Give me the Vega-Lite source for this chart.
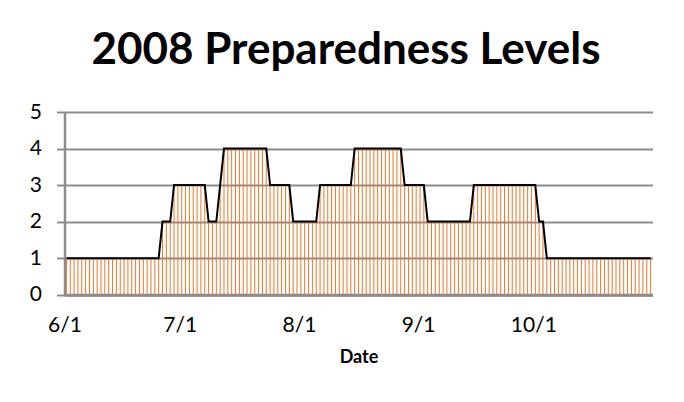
{
  "$schema": "https://vega.github.io/schema/vega-lite/v6.json",
  "width": 588,
  "height": 182.7,
  "autosize": {"type": "none"},
  "padding": {"left": 64.5, "top": 112, "right": 31.5, "bottom": 107.3},
  "background": "white",
  "title": {
    "text": "2008 Preparedness Levels",
    "font": "Lato",
    "fontSize": 44,
    "fontWeight": "bold",
    "color": "black",
    "anchor": "middle",
    "dx": -12.5,
    "offset": 28
  },
  "config": {
    "view": {"stroke": null},
    "axis": {"labelFont": "Lato", "titleFont": "Lato", "labelColor": "black", "titleColor": "black"},
    "axisX": {"labelOverlap": false, "ticks": false, "grid": false, "domainColor": "#8c8c8c", "domainWidth": 3},
    "axisY": {"labelOverlap": false, "tickSize": 8, "tickWidth": 2, "tickColor": "#8c8c8c", "gridColor": "#8c8c8c", "gridWidth": 2, "gridOpacity": 1, "domainColor": "#8c8c8c", "domainWidth": 2.5}
  },
  "data": {
    "values": [
      {"date": "2008-06-01", "level": 1}, {"date": "2008-06-02", "level": 1}, {"date": "2008-06-03", "level": 1}, {"date": "2008-06-04", "level": 1}, {"date": "2008-06-05", "level": 1},
      {"date": "2008-06-06", "level": 1}, {"date": "2008-06-07", "level": 1}, {"date": "2008-06-08", "level": 1}, {"date": "2008-06-09", "level": 1}, {"date": "2008-06-10", "level": 1},
      {"date": "2008-06-11", "level": 1}, {"date": "2008-06-12", "level": 1}, {"date": "2008-06-13", "level": 1}, {"date": "2008-06-14", "level": 1}, {"date": "2008-06-15", "level": 1},
      {"date": "2008-06-16", "level": 1}, {"date": "2008-06-17", "level": 1}, {"date": "2008-06-18", "level": 1}, {"date": "2008-06-19", "level": 1}, {"date": "2008-06-20", "level": 1},
      {"date": "2008-06-21", "level": 1}, {"date": "2008-06-22", "level": 1}, {"date": "2008-06-23", "level": 1}, {"date": "2008-06-24", "level": 1}, {"date": "2008-06-25", "level": 1},
      {"date": "2008-06-26", "level": 2}, {"date": "2008-06-27", "level": 2}, {"date": "2008-06-28", "level": 2}, {"date": "2008-06-29", "level": 3}, {"date": "2008-06-30", "level": 3},
      {"date": "2008-07-01", "level": 3}, {"date": "2008-07-02", "level": 3}, {"date": "2008-07-03", "level": 3}, {"date": "2008-07-04", "level": 3}, {"date": "2008-07-05", "level": 3},
      {"date": "2008-07-06", "level": 3}, {"date": "2008-07-07", "level": 3}, {"date": "2008-07-08", "level": 2}, {"date": "2008-07-09", "level": 2}, {"date": "2008-07-10", "level": 2},
      {"date": "2008-07-11", "level": 3}, {"date": "2008-07-12", "level": 4}, {"date": "2008-07-13", "level": 4}, {"date": "2008-07-14", "level": 4}, {"date": "2008-07-15", "level": 4},
      {"date": "2008-07-16", "level": 4}, {"date": "2008-07-17", "level": 4}, {"date": "2008-07-18", "level": 4}, {"date": "2008-07-19", "level": 4}, {"date": "2008-07-20", "level": 4},
      {"date": "2008-07-21", "level": 4}, {"date": "2008-07-22", "level": 4}, {"date": "2008-07-23", "level": 4}, {"date": "2008-07-24", "level": 3}, {"date": "2008-07-25", "level": 3},
      {"date": "2008-07-26", "level": 3}, {"date": "2008-07-27", "level": 3}, {"date": "2008-07-28", "level": 3}, {"date": "2008-07-29", "level": 3}, {"date": "2008-07-30", "level": 2},
      {"date": "2008-07-31", "level": 2}, {"date": "2008-08-01", "level": 2}, {"date": "2008-08-02", "level": 2}, {"date": "2008-08-03", "level": 2}, {"date": "2008-08-04", "level": 2},
      {"date": "2008-08-05", "level": 2}, {"date": "2008-08-06", "level": 3}, {"date": "2008-08-07", "level": 3}, {"date": "2008-08-08", "level": 3}, {"date": "2008-08-09", "level": 3},
      {"date": "2008-08-10", "level": 3}, {"date": "2008-08-11", "level": 3}, {"date": "2008-08-12", "level": 3}, {"date": "2008-08-13", "level": 3}, {"date": "2008-08-14", "level": 3},
      {"date": "2008-08-15", "level": 4}, {"date": "2008-08-16", "level": 4}, {"date": "2008-08-17", "level": 4}, {"date": "2008-08-18", "level": 4}, {"date": "2008-08-19", "level": 4},
      {"date": "2008-08-20", "level": 4}, {"date": "2008-08-21", "level": 4}, {"date": "2008-08-22", "level": 4}, {"date": "2008-08-23", "level": 4}, {"date": "2008-08-24", "level": 4},
      {"date": "2008-08-25", "level": 4}, {"date": "2008-08-26", "level": 4}, {"date": "2008-08-27", "level": 4}, {"date": "2008-08-28", "level": 3}, {"date": "2008-08-29", "level": 3},
      {"date": "2008-08-30", "level": 3}, {"date": "2008-08-31", "level": 3}, {"date": "2008-09-01", "level": 3}, {"date": "2008-09-02", "level": 3}, {"date": "2008-09-03", "level": 2},
      {"date": "2008-09-04", "level": 2}, {"date": "2008-09-05", "level": 2}, {"date": "2008-09-06", "level": 2}, {"date": "2008-09-07", "level": 2}, {"date": "2008-09-08", "level": 2},
      {"date": "2008-09-09", "level": 2}, {"date": "2008-09-10", "level": 2}, {"date": "2008-09-11", "level": 2}, {"date": "2008-09-12", "level": 2}, {"date": "2008-09-13", "level": 2},
      {"date": "2008-09-14", "level": 2}, {"date": "2008-09-15", "level": 3}, {"date": "2008-09-16", "level": 3}, {"date": "2008-09-17", "level": 3}, {"date": "2008-09-18", "level": 3},
      {"date": "2008-09-19", "level": 3}, {"date": "2008-09-20", "level": 3}, {"date": "2008-09-21", "level": 3}, {"date": "2008-09-22", "level": 3}, {"date": "2008-09-23", "level": 3},
      {"date": "2008-09-24", "level": 3}, {"date": "2008-09-25", "level": 3}, {"date": "2008-09-26", "level": 3}, {"date": "2008-09-27", "level": 3}, {"date": "2008-09-28", "level": 3},
      {"date": "2008-09-29", "level": 3}, {"date": "2008-09-30", "level": 3}, {"date": "2008-10-01", "level": 3}, {"date": "2008-10-02", "level": 2}, {"date": "2008-10-03", "level": 2},
      {"date": "2008-10-04", "level": 1}, {"date": "2008-10-05", "level": 1}, {"date": "2008-10-06", "level": 1}, {"date": "2008-10-07", "level": 1}, {"date": "2008-10-08", "level": 1},
      {"date": "2008-10-09", "level": 1}, {"date": "2008-10-10", "level": 1}, {"date": "2008-10-11", "level": 1}, {"date": "2008-10-12", "level": 1}, {"date": "2008-10-13", "level": 1},
      {"date": "2008-10-14", "level": 1}, {"date": "2008-10-15", "level": 1}, {"date": "2008-10-16", "level": 1}, {"date": "2008-10-17", "level": 1}, {"date": "2008-10-18", "level": 1},
      {"date": "2008-10-19", "level": 1}, {"date": "2008-10-20", "level": 1}, {"date": "2008-10-21", "level": 1}, {"date": "2008-10-22", "level": 1}, {"date": "2008-10-23", "level": 1},
      {"date": "2008-10-24", "level": 1}, {"date": "2008-10-25", "level": 1}, {"date": "2008-10-26", "level": 1}, {"date": "2008-10-27", "level": 1}, {"date": "2008-10-28", "level": 1},
      {"date": "2008-10-29", "level": 1}, {"date": "2008-10-30", "level": 1}, {"date": "2008-10-31", "level": 1}
    ]
  },
  "encoding": {
    "x": {
      "field": "date",
      "timeUnit": "utcyearmonthdate",
      "type": "temporal",
      "bandPosition": 0.5,
      "scale": {
        "type": "utc",
        "domain": [
          {"year": 2008, "month": 6, "date": 1, "utc": true},
          {"year": 2008, "month": 11, "date": 1, "utc": true}
        ]
      },
      "axis": {
        "title": "Date",
        "titleFontSize": 18,
        "titleFontWeight": "bold",
        "titlePadding": 13,
        "tickCount": {"interval": "month", "step": 1},
        "labelExpr": "utcmonth(datum.value) == 10 ? '' : utcFormat(datum.value, '%-m/%-d')",
        "labelFontSize": 21,
        "labelPadding": 20,
        "labelFlush": false,
        "labelOverlap": false
      }
    }
  },
  "layer": [
    {
      "mark": {"type": "rule", "color": "#E8782A", "strokeWidth": 1},
      "encoding": {
        "y": {
          "field": "level",
          "type": "quantitative",
          "scale": {"domain": [0, 5], "nice": false},
          "axis": {
            "title": null,
            "tickCount": 5,
            "labelFontSize": 21,
            "labelPadding": 15
          }
        },
        "y2": {"datum": 0}
      }
    },
    {
      "mark": {"type": "line", "color": "black", "strokeWidth": 2},
      "encoding": {
        "y": {"field": "level", "type": "quantitative"}
      }
    }
  ]
}
